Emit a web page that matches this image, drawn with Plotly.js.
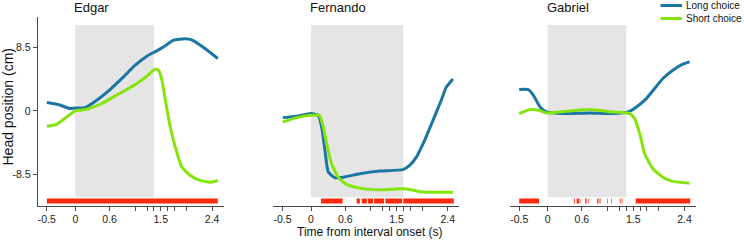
<!DOCTYPE html>
<html>
<head>
<meta charset="utf-8">
<script src="https://cdn.plot.ly/plotly-3.0.1.min.js"></script>
<style>html,body{margin:0;padding:0;background:#fff;}#chart{width:744px;height:241px;}</style>
</head>
<body>
<div id="chart"></div>
<script>
// ---------- data ----------
const subjects = ["Edgar", "Fernando", "Gabriel"];
const seriesNames = ["Long choice", "Short choice"];

// Edgar
const edgarLongT = [-0.5, -0.3, -0.09, 0, 0.17, 0.376, 0.61, 0.845, 1.05, 1.256, 1.43, 1.55, 1.725, 1.93, 2.05, 2.25, 2.5];
const edgarLongV = [1.13, 0.86, 0.32, 0.4, 0.44, 1.44, 2.87, 4.56, 6.13, 7.34, 8.05, 8.59, 9.49, 9.66, 9.49, 8.5, 7.03];
const edgarShortT = [-0.5, -0.33, -0.15, 0, 0.2, 0.435, 0.67, 0.9, 1.08, 1.256, 1.40, 1.46, 1.52, 1.58, 1.666, 1.754, 1.87, 2.02, 2.19, 2.37, 2.5];
const edgarShortV = [-2.05, -1.78, -0.8, 0, 0.23, 0.9, 1.88, 2.87, 3.67, 4.66, 5.6, 5.46, 4.12, 1.44, -2.15, -4.83, -7.51, -8.63, -9.3, -9.53, -9.3];

// Fernando
const fernandoLongT = [-0.495, -0.25, 0, 0.128, 0.187, 0.245, 0.303, 0.42, 0.565, 0.857, 1.206, 1.614, 1.73, 1.848, 1.993, 2.14, 2.285, 2.37, 2.49];
const fernandoLongV = [-0.89, -0.71, -0.35, -0.58, -2.15, -5.27, -8.18, -8.94, -8.86, -8.4, -8.05, -7.86, -7.29, -6.17, -3.93, -1.25, 1.44, 3.14, 4.29];
const fernandoShortT = [-0.495, -0.25, 0, 0.146, 0.216, 0.274, 0.36, 0.478, 0.624, 0.857, 1.206, 1.614, 1.73, 1.906, 2.255, 2.49];
const fernandoShortV = [-1.48, -0.89, -0.58, -0.58, -2.15, -4.37, -7.06, -8.86, -9.83, -10.33, -10.55, -10.41, -10.5, -10.8, -10.87, -10.87];

// Gabriel
const gabrielLongT = [-0.5, -0.34, -0.25, -0.135, -0.02, 0.27, 0.74, 1.147, 1.41, 1.556, 1.73, 1.876, 2.02, 2.196, 2.37, 2.49];
const gabrielLongV = [2.87, 2.87, 2.1, 0.54, -0.13, -0.35, -0.27, -0.35, -0.13, 0.54, 1.66, 3.0, 4.35, 5.46, 6.27, 6.58];
const gabrielShortT = [-0.5, -0.31, -0.164, -0.02, 0.33, 0.74, 1.147, 1.44, 1.526, 1.614, 1.7, 1.846, 2.02, 2.196, 2.49];
const gabrielShortV = [-0.35, 0.19, 0.1, -0.27, -0.04, 0.19, -0.13, -0.35, -1.02, -3.03, -5.7, -7.73, -8.86, -9.43, -9.66];

// significance segments (start / end, s)
const edgarSigStart = [-0.5];
const edgarSigEnd = [2.5];
const fernandoSigStart = [0.175, 0.80, 0.89, 0.997, 1.107, 1.306, 1.62];
const fernandoSigEnd = [0.554, 0.857, 0.98, 1.09, 1.28, 1.60, 2.505];
const gabrielSigStart = [-0.5, 0.46, 0.507, 0.56, 0.657, 0.705, 0.867, 0.909, 1.044, 1.114, 1.264, 1.299, 1.544];
const gabrielSigEnd = [-0.152, 0.475, 0.547, 0.572, 0.682, 0.717, 0.89, 0.927, 1.056, 1.126, 1.28, 1.311, 2.5];

// interval period (grey), s
const intervalEnd = [1.38, 1.62, 1.38];

// axis ticks
const xTickVals = [-0.5, 0, 0.6, 1.05, 1.26, 1.38, 1.5, 1.62, 1.74, 1.95, 2.4];
const xTickText = ["-0.5", "0", "0.6", "", "", "", "1.5", "", "", "", "2.4"];
const yTickVals = [-8.5, 0, 8.5];
const yTickText = ["-8.5", "0", "8.5"];

// ---------- styling ----------
const BLUE = "#1a76a3";
const GREEN = "#84e40c";
const RED = "#ff2a0c";
const GREY = "#e5e5e5";
const AXIS = "#4a4a4a";
const FONT = "Liberation Sans, Arial, sans-serif";
const W = 744, H = 241;
const px = v => v / W;
const py = v => 1 - v / H;

const SIG_Y = -12.05;

const longT = [edgarLongT, fernandoLongT, gabrielLongT];
const longV = [edgarLongV, fernandoLongV, gabrielLongV];
const shortT = [edgarShortT, fernandoShortT, gabrielShortT];
const shortV = [edgarShortV, fernandoShortV, gabrielShortV];
const sigS = [edgarSigStart, fernandoSigStart, gabrielSigStart];
const sigE = [edgarSigEnd, fernandoSigEnd, gabrielSigEnd];
const xa = ["x", "x2", "x3"];

const traces = [];
for (let i = 0; i < 3; i++) {
  const sx = [], sy = [];
  for (let k = 0; k < sigS[i].length; k++) {
    sx.push(sigS[i][k], sigE[i][k], null);
    sy.push(SIG_Y, SIG_Y, null);
  }
  traces.push({type: "scatter", mode: "lines", x: sx, y: sy, xaxis: xa[i], yaxis: "y",
    line: {color: RED, width: 5}, hoverinfo: "skip", showlegend: false});
  traces.push({type: "scatter", mode: "lines", x: longT[i], y: longV[i], xaxis: xa[i], yaxis: "y",
    name: seriesNames[0], line: {color: BLUE, width: 3, shape: "spline", smoothing: 0.5}, showlegend: false});
  traces.push({type: "scatter", mode: "lines", x: shortT[i], y: shortV[i], xaxis: xa[i], yaxis: "y",
    name: seriesNames[1], line: {color: GREEN, width: 3, shape: "spline", smoothing: 0.5}, showlegend: false});
}

const XR = [-0.66, 2.6];
function xaxisDef(d0, d1) {
  return {domain: [px(d0), px(d1)], range: XR, anchor: "y", showline: true, linecolor: AXIS, linewidth: 1,
    ticks: "outside", ticklen: 4, tickcolor: AXIS, tickwidth: 1, tickvals: xTickVals, ticktext: xTickText,
    showgrid: false, zeroline: false, tickfont: {family: FONT, size: 10.5, color: "#222"}, fixedrange: true};
}

const shapes = [];
for (let i = 0; i < 3; i++) {
  shapes.push({type: "rect", xref: xa[i], yref: "y", x0: 0, x1: intervalEnd[i], y0: -11.55, y1: 11.5,
    fillcolor: GREY, line: {width: 0}, layer: "below"});
}
// legend samples
shapes.push({type: "line", xref: "paper", yref: "paper", x0: px(660.5), x1: px(682), y0: py(5.5), y1: py(5.5), line: {color: BLUE, width: 3}});
shapes.push({type: "line", xref: "paper", yref: "paper", x0: px(660.5), x1: px(682), y0: py(18.5), y1: py(18.5), line: {color: GREEN, width: 3}});

const annotations = [];
const titleX = [91.7, 338.3, 568.3];
for (let i = 0; i < 3; i++) {
  annotations.push({text: subjects[i], xref: "paper", yref: "paper", x: px(titleX[i]), y: py(7), xanchor: "center", yanchor: "middle",
    showarrow: false, font: {family: FONT, size: 13, color: "#111"}});
}
annotations.push({text: "Head position (cm)", xref: "paper", yref: "paper", x: px(7.5), y: py(107), textangle: -90,
  xanchor: "center", yanchor: "middle", showarrow: false, font: {family: FONT, size: 14, color: "#111"}});
annotations.push({text: "Time from interval onset (s)", xref: "paper", yref: "paper", x: px(370), y: py(231.5),
  xanchor: "center", yanchor: "middle", showarrow: false, font: {family: FONT, size: 12, color: "#111"}});
annotations.push({text: seriesNames[0], xref: "paper", yref: "paper", x: px(684), y: py(5.5), xanchor: "left", yanchor: "middle",
  showarrow: false, font: {family: FONT, size: 10, color: "#111"}});
annotations.push({text: seriesNames[1], xref: "paper", yref: "paper", x: px(684), y: py(18.5), xanchor: "left", yanchor: "middle",
  showarrow: false, font: {family: FONT, size: 10, color: "#111"}});

const layout = {
  width: W, height: H,
  margin: {l: 0, r: 0, t: 0, b: 0, pad: 0},
  paper_bgcolor: "#ffffff", plot_bgcolor: "rgba(0,0,0,0)",
  showlegend: false,
  font: {family: FONT, color: "#222"},
  xaxis: xaxisDef(37.7, 223.5),
  xaxis2: xaxisDef(273.4, 459.2),
  xaxis3: xaxisDef(510.1, 695.9),
  yaxis: {domain: [1 - 205.7 / H, 1 - 17 / H], range: [-12.68, 12.58], anchor: "x", showline: true, linecolor: AXIS, linewidth: 1,
    ticks: "outside", ticklen: 4, tickcolor: AXIS, tickwidth: 1, tickvals: yTickVals, ticktext: yTickText,
    showgrid: false, zeroline: false, tickfont: {family: FONT, size: 10.5, color: "#222"}, fixedrange: true},
  shapes: shapes,
  annotations: annotations
};

Plotly.newPlot("chart", traces, layout, {staticPlot: true, displayModeBar: false});
</script>
</body>
</html>
